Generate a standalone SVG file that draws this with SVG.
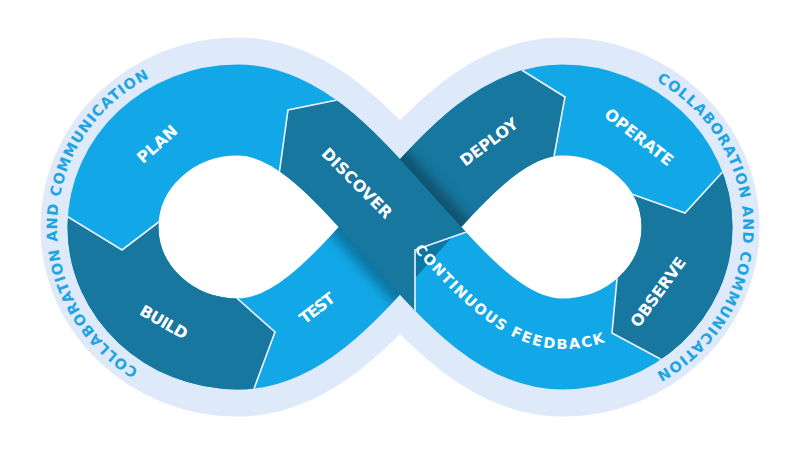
<svg xmlns="http://www.w3.org/2000/svg" width="800" height="450" viewBox="0 0 800 450">
<defs>
<style>
.lbl { font-family: "DejaVu Sans", "Open Sans", sans-serif; font-weight: 700; fill: #ffffff; font-size: 16px; text-anchor: middle; }
.cf { font-family: "DejaVu Sans", "Open Sans", sans-serif; font-weight: 700; fill: #ffffff; font-size: 14.5px; }
.htxt { font-family: "DejaVu Sans", "Open Sans", sans-serif; font-weight: 700; fill: #1ea4e2; font-size: 14.5px; text-anchor: middle; }
.sep { fill: none; stroke: #eaf5fc; stroke-width: 1.6; stroke-linejoin: miter; }
.light { fill: none; stroke: #12a8e7; stroke-width: 91; }
.dark { fill: none; stroke: #17779f; stroke-width: 91; }
</style>
<path id="loop" d="M 400,227 C 350,172 300,110 238,110 C 169,110 113,162.4 113,227 C 113,291.6 169,344 238,344 C 300,344 350,282 400,227 C 450,172 500,110 562,110 C 631,110 687,162.4 687,227 C 687,291.6 631,344 562,344 C 500,344 450,282 400,227 Z"/>
<path id="over" d="M 562,344 C 500,344 450,282 400,227 C 350,172 300,110 238,110"/>
<path id="under" d="M 238,344 C 300,344 350,282 400,227 C 450,172 500,110 562,110"/>
<path id="cfPath" d="M 400,227 C 450,282 500,344 562,344 C 631,344 687,291.6 687,227"/>
<path id="hL" d="M 170.9,385.5 A 178 170 0 0 1 182.7,64.4"/>
<path id="hR" d="M 623.2,66.3 A 178 170 0 0 1 623.2,387.7"/>
<clipPath id="cBuild"><polygon points="40,200 122,250 190,199 238,227 205,271 235,297 275,332 248,405 20,420 20,200"/></clipPath>
<clipPath id="cDeploy"><polygon points="400,227 400,40 490,50 565,97 550,180 460,227"/></clipPath>
<clipPath id="cObserve"><polygon points="600,184 685,213 745,148 790,140 790,420 690,375 612,333 620,245"/></clipPath>
<clipPath id="cDiscover"><polygon points="415,340 415,250 500,220 500,60 400,88 333,101 288,110 276,200 330,300"/></clipPath>
<mask id="bandMask" maskUnits="userSpaceOnUse" x="0" y="0" width="800" height="450"><use href="#loop" fill="none" stroke="#ffffff" stroke-width="91"/></mask>
<mask id="underMask" maskUnits="userSpaceOnUse" x="0" y="0" width="800" height="450"><use href="#under" fill="none" stroke="#ffffff" stroke-width="91"/></mask>
<filter id="blur" x="-20%" y="-20%" width="140%" height="140%"><feGaussianBlur stdDeviation="6"/></filter>
</defs>
<rect width="800" height="450" fill="#ffffff"/>
<g id="halo">
<use href="#loop" fill="#ffffff" stroke="#dee9f9" stroke-width="145" paint-order="stroke"/>
</g>
<g id="band">
<use href="#loop" class="light"/>
</g>
<g id="build"><use href="#loop" class="dark" clip-path="url(#cBuild)"/></g>
<g id="deploy"><use href="#loop" class="dark" clip-path="url(#cDeploy)"/></g>
<g id="observe"><use href="#loop" class="dark" clip-path="url(#cObserve)"/></g>
<g id="shadow" mask="url(#underMask)"><use href="#over" fill="none" stroke="#000000" stroke-opacity="0.3" stroke-width="112" filter="url(#blur)"/></g>
<g id="discover"><use href="#over" class="dark" clip-path="url(#cDiscover)"/></g>
<g id="connectors" mask="url(#bandMask)">
<polyline class="sep" points="60,212 122,250 164,218"/>
<polyline class="sep" points="230,292 275,332 252,394"/>
<polyline class="sep" points="512,64 565,97 553,162"/>
<polyline class="sep" points="626,192 685,213 728,166"/>
<polyline class="sep" points="618,268 612,333 666,362"/>
<polyline class="sep" points="472,230 415,250 415,316"/>
<polyline class="sep" points="278,182 288,110 342,99"/>
</g>
<g id="labels">
<text class="lbl" transform="translate(157,144) rotate(-42)" dy="0.36em" textLength="48" lengthAdjust="spacing">PLAN</text>
<text class="lbl" transform="translate(164,322) rotate(30)" dy="0.36em" textLength="52" lengthAdjust="spacing">BUILD</text>
<text class="lbl" transform="translate(317,308) rotate(-38)" dy="0.36em" textLength="40" lengthAdjust="spacing">TEST</text>
<text class="lbl" transform="translate(357,183) rotate(45)" dy="0.36em" textLength="92" lengthAdjust="spacing">DISCOVER</text>
<text class="lbl" transform="translate(489,142) rotate(-37)" dy="0.36em" textLength="68" lengthAdjust="spacing">DEPLOY</text>
<text class="lbl" transform="translate(639,137) rotate(38)" dy="0.36em" textLength="82" lengthAdjust="spacing">OPERATE</text>
<text class="lbl" transform="translate(658,292) rotate(-54)" dy="0.36em" textLength="82" lengthAdjust="spacing">OBSERVE</text>
<text class="cf" dy="5"><textPath href="#cfPath" startOffset="26" textLength="222" lengthAdjust="spacing">CONTINUOUS FEEDBACK</textPath></text>
<text class="htxt"><textPath href="#hL" startOffset="50%" textLength="356" lengthAdjust="spacing">COLLABORATION AND COMMUNICATION</textPath></text>
<text class="htxt"><textPath href="#hR" startOffset="50%" textLength="356" lengthAdjust="spacing">COLLABORATION AND COMMUNICATION</textPath></text>
</g>
</svg>
